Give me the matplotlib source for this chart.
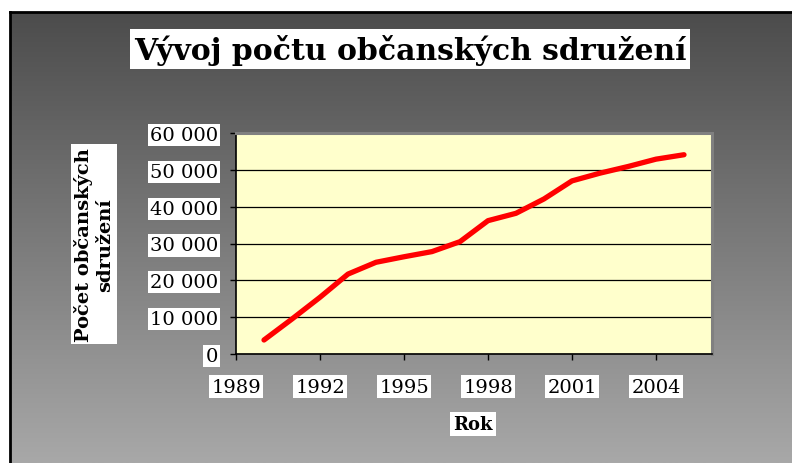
import numpy as np
import matplotlib
matplotlib.use("Agg")
import matplotlib.pyplot as plt
from matplotlib.ticker import FuncFormatter, MultipleLocator

# number of civic associations per year
years = [1990, 1991, 1992, 1993, 1994, 1995, 1996, 1997,
         1998, 1999, 2000, 2001, 2002, 2003, 2004, 2005]
counts = [3800, 9500, 15400, 21700, 24900, 26400, 27800, 30500,
          36200, 38200, 42100, 47000, 49100, 50900, 52900, 54100]

title = "Vývoj počtu občanských sdružení"
x_label = "Rok"
y_label = "Počet občanských\nsdružení"

W, H = 792, 464
fig = plt.figure(figsize=(W / 100, H / 100), dpi=100)
fig.patch.set_facecolor("white")

# gray gradient panel
bg = fig.add_axes([10 / W, 0, (W - 10) / W, (H - 13) / H])
grad = np.linspace(0, 1, 256).reshape(-1, 1)
cmap = matplotlib.colors.LinearSegmentedColormap.from_list("g", ["#4c4c4c", "#a8a8a8"])
bg.imshow(grad, aspect="auto", cmap=cmap, extent=[0, 1, 0, 1], origin="upper")
bg.set_xticks([])
bg.set_yticks([])
for s in ["right", "bottom"]:
    bg.spines[s].set_visible(False)
for s in ["top", "left"]:
    bg.spines[s].set_color("black")
    bg.spines[s].set_linewidth(2)
bg.set_zorder(-5)

# plot area
ax = fig.add_axes([236 / W, (H - 355) / H, (712 - 236) / W, (355 - 134) / H])
ax.set_facecolor("#ffffcc")
ax.plot(years, counts, color="#ff0000", lw=3.8, solid_capstyle="round",
        solid_joinstyle="round", zorder=3)

ax.set_xlim(1989, 2006)
ax.set_ylim(0, 60000)
ax.xaxis.set_major_locator(MultipleLocator(3))
ax.yaxis.set_major_locator(MultipleLocator(10000))
ax.yaxis.set_major_formatter(FuncFormatter(lambda v, p: f"{int(v):,}".replace(",", " ")))
ax.yaxis.grid(True, color="black", lw=0.9)
ax.set_axisbelow(True)

for s in ["top", "right"]:
    ax.spines[s].set_color("#808080")
    ax.spines[s].set_linewidth(2.2)
for s in ["left", "bottom"]:
    ax.spines[s].set_color("black")
    ax.spines[s].set_linewidth(1.2)

ax.tick_params(axis="both", direction="out", length=4, width=1, color="black")
ax.tick_params(axis="y", pad=9)
ax.tick_params(axis="x", pad=13)
for lab in ax.get_xticklabels() + ax.get_yticklabels():
    lab.set_fontfamily("DejaVu Serif")
    lab.set_fontsize(14)
    lab.set_bbox(dict(facecolor="white", edgecolor="none", pad=1.5))

fig.text(410 / W, 1 - 50 / H, title, ha="center", va="center",
         fontsize=21.5, fontweight="bold", family="DejaVu Serif",
         bbox=dict(facecolor="white", edgecolor="none", pad=3))
fig.text(473 / W, 1 - 425 / H, x_label, ha="center", va="center",
         fontsize=13, fontweight="bold", family="DejaVu Serif",
         bbox=dict(facecolor="white", edgecolor="none", pad=2.5))
fig.text(94 / W, 1 - 245 / H, y_label, ha="center", va="center", rotation=90,
         multialignment="center", fontsize=14, fontweight="bold", family="DejaVu Serif",
         linespacing=1.25, bbox=dict(facecolor="white", edgecolor="none", pad=2))

fig.savefig("out.png", dpi=100)
